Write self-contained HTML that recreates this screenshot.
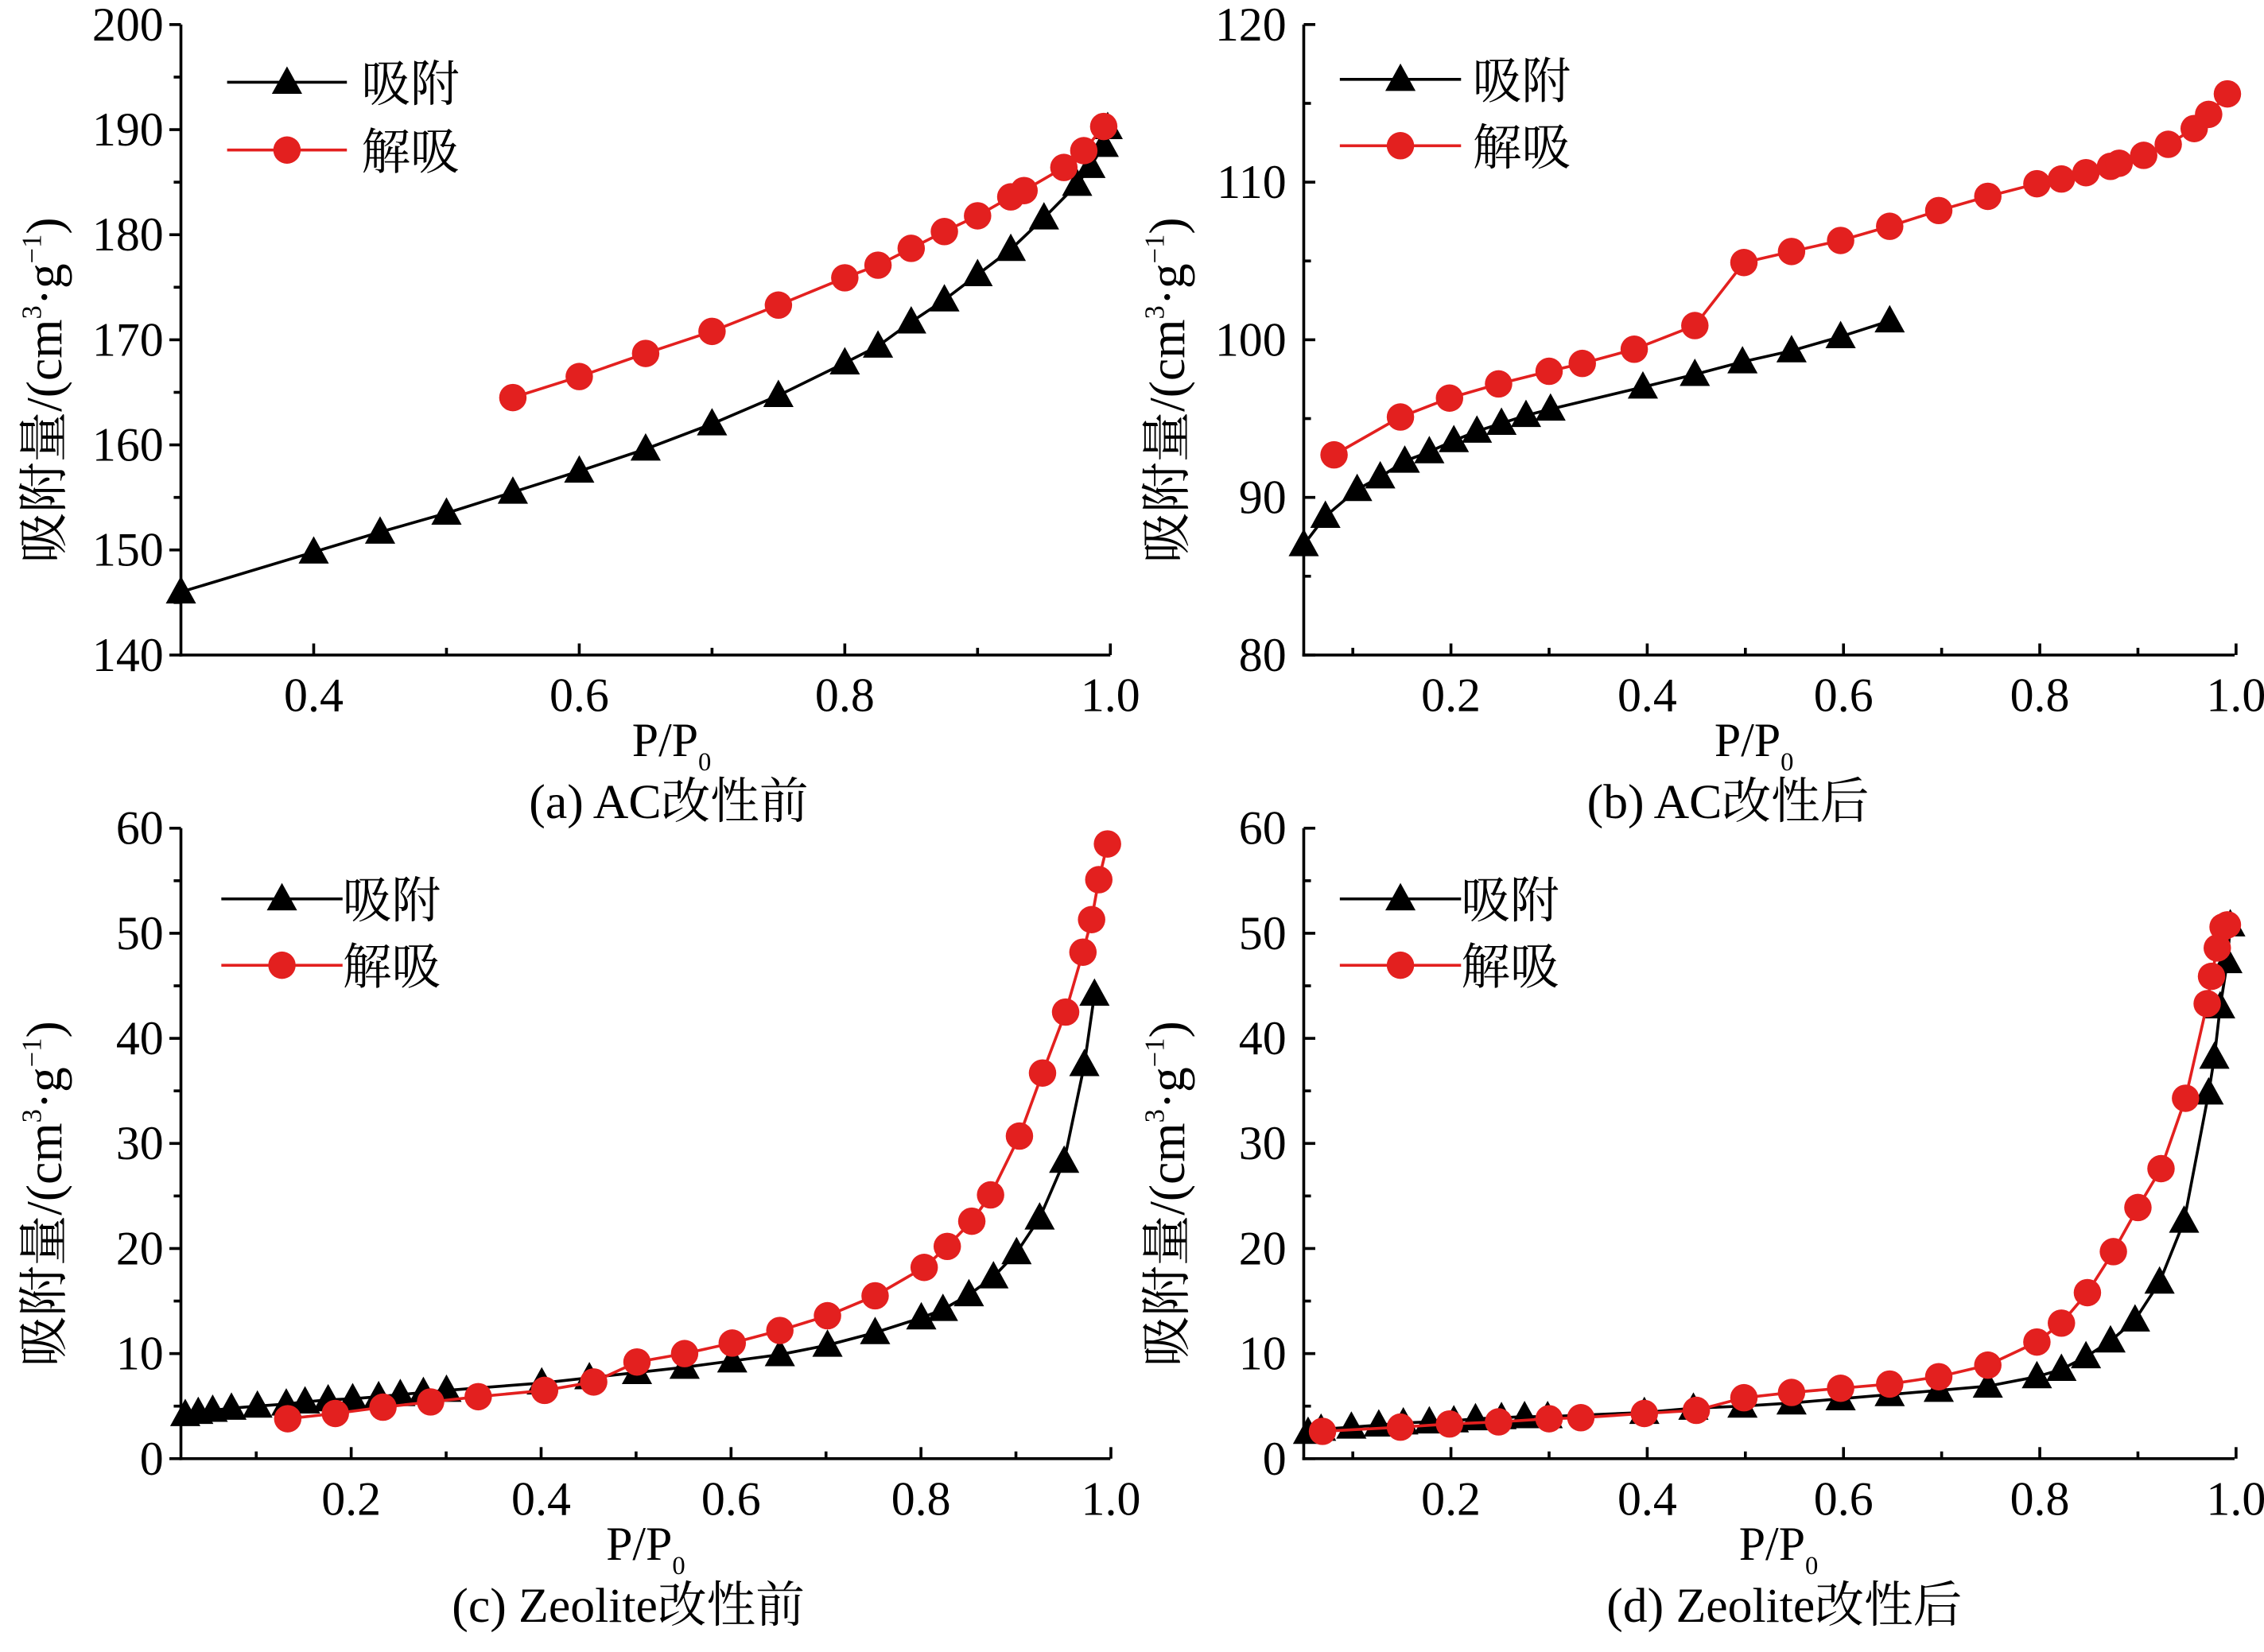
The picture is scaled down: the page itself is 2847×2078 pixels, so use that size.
<!DOCTYPE html>
<html><head><meta charset="utf-8"><style>
html,body{margin:0;padding:0;background:#fff}
svg{display:block}
text{font-family:"Liberation Serif","Noto Serif CJK SC","Noto Sans CJK SC",serif;fill:#000}
</style></head><body>
<svg id="s" width="2847" height="2078" viewBox="0 0 1568 1145" xmlns="http://www.w3.org/2000/svg"></svg>
<script>
const s=document.getElementById('s');let h='';
function tri(x,y){return `<polygon points="${x},${y-11} ${x-10.5},${y+8} ${x+10.5},${y+8}" fill="#000"/>`;}
function cir(x,y){return `<circle cx="${x}" cy="${y}" r="9.5" fill="#e3201f"/>`;}
function series(pts,col,mk){h+=`<polyline points="${pts.map(p=>p.join(',')).join(' ')}" fill="none" stroke="${col}" stroke-width="2"/>`;pts.forEach(p=>h+=mk(p[0],p[1]));}
function panel(o){
 const {L,R,T,B,yv,ymap,xv,xmap,yin,xmin,ymin}=o;
 h+=`<line x1="${L}" y1="${T}" x2="${L}" y2="${B+1}" stroke="#000" stroke-width="2"/><line x1="${L-1}" y1="${B}" x2="${R}" y2="${B}" stroke="#000" stroke-width="2"/>`;
 yv.forEach(v=>{const y=ymap(v);h+=`<line x1="${L}" y1="${y}" x2="${yin?L+8:L-8}" y2="${y}" stroke="#000" stroke-width="2"/><text x="${L-12}" y="${y+11}" font-size="33" text-anchor="end">${v}</text>`;});
 ymin.forEach(v=>{const y=ymap(v);h+=`<line x1="${L}" y1="${y}" x2="${yin?L+5:L-5}" y2="${y}" stroke="#000" stroke-width="2"/>`;});
 xv.forEach(v=>{const x=xmap(v);h+=`<line x1="${x}" y1="${B}" x2="${x}" y2="${B-8}" stroke="#000" stroke-width="2"/><text x="${x}" y="${B+39}" font-size="33" text-anchor="middle">${v.toFixed(1)}</text>`;});
 xmin.forEach(v=>{const x=xmap(v);h+=`<line x1="${x}" y1="${B}" x2="${x}" y2="${B-5}" stroke="#000" stroke-width="2"/>`;});
 const cy=(T+B)/2+35, ax=L-83;
 h+=`<text transform="translate(${ax},${cy}) rotate(-90)" font-size="35" text-anchor="middle">吸附量/(cm<tspan font-size="19" dy="-14">3</tspan><tspan dy="14">·g</tspan><tspan font-size="19" dy="-14">−1</tspan><tspan dy="14">)</tspan></text>`;
 h+=`<text x="${o.xt}" y="${B+70}" font-size="33" text-anchor="middle">P/P<tspan font-size="18" dy="10">0</tspan></text>`;
 h+=`<text x="${o.cap}" y="${B+113}" font-size="34" text-anchor="middle">${o.caption}</text>`;
 const lg=o.lg;
 h+=`<line x1="${lg[0]}" y1="${lg[2]}" x2="${lg[1]}" y2="${lg[2]}" stroke="#000" stroke-width="2"/>`+tri((lg[0]+lg[1])/2,lg[2]);
 h+=`<line x1="${lg[0]}" y1="${lg[3]}" x2="${lg[1]}" y2="${lg[3]}" stroke="#e3201f" stroke-width="2"/>`+cir((lg[0]+lg[1])/2,lg[3]);
 h+=`<text x="${lg[4]}" y="${lg[2]+13}" font-size="34">吸附</text><text x="${lg[4]}" y="${lg[3]+13}" font-size="34">解吸</text>`;
}
const ax=x=>125+(x-0.3)*920, ay=v=>454-(v-140)*7.283;
panel({L:125,R:769,T:17,B:454,yv:[140,150,160,170,180,190,200],ymap:ay,ymin:[145,155,165,175,185,195],xv:[0.4,0.6,0.8,1.0],xmap:ax,xmin:[0.5,0.7,0.9],yin:false,xt:465,cap:463,caption:"(a) AC改性前",lg:[157,240,57,104,250]});
series([[0.3,146],[0.4,149.8],[0.45,151.7],[0.5,153.5],[0.55,155.5],[0.6,157.5],[0.65,159.6],[0.7,162],[0.75,164.7],[0.8,167.8],[0.825,169.4],[0.85,171.7],[0.875,173.8],[0.9,176.2],[0.925,178.6],[0.95,181.6],[0.975,184.8],[0.985,186.5],[0.995,188.5],[0.998,190.2]].map(p=>[ax(p[0]),ay(p[1])]),'#000',tri);
series([[0.55,164.5],[0.6,166.5],[0.65,168.7],[0.7,170.8],[0.75,173.3],[0.8,175.9],[0.825,177.1],[0.85,178.7],[0.875,180.3],[0.9,181.8],[0.925,183.6],[0.935,184.2],[0.965,186.4],[0.98,188],[0.995,190.3]].map(p=>[ax(p[0]),ay(p[1])]),'#e3201f',cir);
const bx=x=>903+(x-0.05)*680, by=v=>454-(v-80)*10.925;
panel({L:903,R:1548,T:17,B:454,yv:[80,90,100,110,120],ymap:by,ymin:[85,95,105,115],xv:[0.2,0.4,0.6,0.8,1.0],xmap:bx,xmin:[0.1,0.3,0.5,0.7,0.9],yin:true,xt:1215,cap:1197,caption:"(b) AC改性后",lg:[928,1012,55,101,1020]});
series([[903,87],[918,88.8],[940,90.5],[956,91.3],[973,92.3],[990,92.9],[1007,93.6],[1023,94.2],[1040,94.7],[1057,95.2],[1074,95.6],[1138,97],[1174,97.8],[1207,98.6],[1241,99.3],[1275,100.2],[1309,101.2]].map(p=>[p[0],by(p[1])]),'#000',tri);
series([[924,92.7],[970,95.1],[1004,96.3],[1038,97.2],[1073,98],[1096,98.5],[1132,99.4],[1174,100.9],[1208,104.9],[1241,105.6],[1275,106.3],[1309,107.2],[1343,108.2],[1377,109.1],[1411,109.9],[1428,110.2],[1445,110.6],[1462,111],[1468,111.2],[1485,111.7],[1502,112.4],[1520,113.4],[1530,114.3],[1543,115.6]].map(p=>[p[0],by(p[1])]),'#e3201f',cir);
const cx=x=>125+(x-0.0207)*658, cyy=v=>1011-v*7.283;
panel({L:125,R:769,T:574,B:1011,yv:[0,10,20,30,40,50,60],ymap:cyy,ymin:[5,15,25,35,45,55],xv:[0.2,0.4,0.6,0.8,1.0],xmap:cx,xmin:[0.1,0.3,0.5,0.7,0.9],yin:false,xt:447,cap:435,caption:"(c) Zeolite改性前",lg:[153,237,623,669,237]});
series([[128,4.2],[137,4.4],[147,4.6],[160,4.8],[178,5.0],[198,5.2],[211,5.4],[227,5.6],[244,5.7],[262,5.9],[277,6.1],[293,6.3],[309,6.5],[375,7.2],[408,7.7],[441,8.2],[474,8.7],[507,9.3],[540,9.9],[573,10.8],[606,12],[638,13.4],[653,14.2],[671,15.6],[688,17.3],[704,19.6],[720,22.9],[737,28.3],[751,37.5],[758,44.2]].map(p=>[p[0],cyy(p[1])]),'#000',tri);
series([[199,3.8],[232,4.3],[265,4.9],[298,5.4],[331,5.9],[377,6.5],[411,7.3],[441,9.2],[474,10],[507,11],[540,12.2],[573,13.6],[606,15.5],[640,18.2],[656,20.2],[673,22.6],[686,25.1],[706,30.7],[722,36.7],[738,42.5],[750,48.2],[756,51.3],[761,55.1],[767,58.5]].map(p=>[p[0],cyy(p[1])]),'#e3201f',cir);
panel({L:903,R:1548,T:574,B:1011,yv:[0,10,20,30,40,50,60],ymap:cyy,ymin:[5,15,25,35,45,55],xv:[0.2,0.4,0.6,0.8,1.0],xmap:bx,xmin:[0.1,0.3,0.5,0.7,0.9],yin:true,xt:1232,cap:1236,caption:"(d) Zeolite改性后",lg:[928,1012,623,669,1012]});
series([[906,2.5],[915,2.8],[936,3.0],[955,3.2],[972,3.4],[990,3.5],[1007,3.6],[1022,3.8],[1040,3.9],[1056,4.0],[1072,4.0],[1139,4.4],[1173,4.8],[1207,5.0],[1241,5.3],[1275,5.7],[1309,6.1],[1343,6.5],[1377,6.9],[1411,7.8],[1428,8.5],[1445,9.7],[1462,11.2],[1479,13.2],[1496,16.8],[1513,22.6],[1530,34.8],[1534,38.2],[1538,43.0],[1543,47.3],[1545,50.8]].map(p=>[p[0],cyy(p[1])]),'#000',tri);
series([[916,2.6],[970,3.0],[1004,3.3],[1038,3.5],[1073,3.8],[1095,3.9],[1139,4.3],[1175,4.6],[1208,5.8],[1241,6.3],[1275,6.7],[1309,7.1],[1343,7.8],[1377,8.9],[1411,11.1],[1428,12.9],[1446,15.8],[1464,19.7],[1481,23.9],[1497,27.6],[1514,34.3],[1529,43.3],[1532,45.9],[1536,48.6],[1540,50.6],[1543,50.8]].map(p=>[p[0],cyy(p[1])]),'#e3201f',cir);
s.innerHTML=h;
</script>
</body></html>
